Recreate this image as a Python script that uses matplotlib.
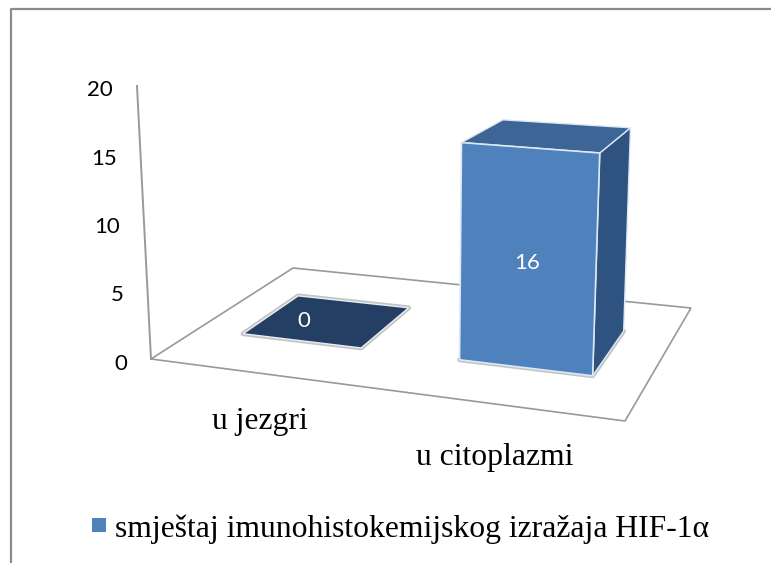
import numpy as np
import matplotlib
matplotlib.use("Agg")
import matplotlib.pyplot as plt
from matplotlib.patches import Polygon

categories = ["u jezgri", "u citoplazmi"]
values = [0, 16]
y_ticks = [0, 5, 10, 15, 20]
legend_label = "smještaj imunohistokemijskog izražaja HIF-1α"

W, H = 771, 563
YMAX = 20

# floor corners in pixels: front-left, front-right, back-right, back-left
FLOOR = np.array([[151, 359], [625, 421], [691, 308], [293, 268]], float)
# pixel vector of a full-height (YMAX) wall at each floor corner
RISE = np.array([[-14, -273], [12, -299], [10, -239], [-6, -216]], float)
BAR_W = 0.28
BAR_D = 0.41

x0, y0 = FLOOR[0]
x1, y1 = FLOOR[1]
x2, y2 = FLOOR[2]
x3, y3 = FLOOR[3]
dx1, dx2, sx = x1 - x2, x3 - x2, x0 - x1 + x2 - x3
dy1, dy2, sy = y1 - y2, y3 - y2, y0 - y1 + y2 - y3
det = dx1 * dy2 - dx2 * dy1
g = (sx * dy2 - dx2 * sy) / det
h = (dx1 * sy - sx * dy1) / det
a, b = x1 - x0 + g * x1, x3 - x0 + h * x3
d, e = y1 - y0 + g * y1, y3 - y0 + h * y3


def project(u, v, val=0):
    # category space (u, v on the floor, val up) -> pixels
    w = g * u + h * v + 1
    base = np.array([(a * u + b * v + x0) / w, (d * u + e * v + y0) / w])
    rise = ((1 - u) * (1 - v) * RISE[0] + u * (1 - v) * RISE[1]
            + u * v * RISE[2] + (1 - u) * v * RISE[3])
    return base + rise * val / YMAX


fig = plt.figure(figsize=(W / 100, H / 100), dpi=100)
ax = fig.add_axes([0, 0, 1, 1])
ax.set_xlim(0, W)
ax.set_ylim(H, 0)
ax.axis("off")

# chart frame, only left and top are inside the crop
ax.plot([10.5, 10.5, W], [H, 8.5, 8.5], color="#8c8c8c", lw=1.6)

# floor and y axis
ax.add_patch(Polygon(FLOOR, closed=True, fc="white", ec="#999999", lw=1.2, zorder=1))
ax.plot(*zip(project(0, 0, 0), project(0, 0, YMAX)), color="#999999", lw=1.4, zorder=1)

sans = "Lato"
serif = "Liberation Serif"
for t in y_ticks:
    px, py = project(0, 0, t)
    ax.text(px - 24, py + 4.5, str(t), ha="right", va="center", family=sans,
            fontsize=16, color="black")

FRONT = "#4f81bd"
SIDE = "#2f5380"
TOP = "#3d6596"
FLAT = "#243f63"
EDGE = "#dbe8f5"

for i, (cat, val) in enumerate(zip(categories, values)):
    uc = (i + 0.5) / len(categories)
    ul, ur = uc - BAR_W / 2, uc + BAR_W / 2
    vf, vb = 0.5 - BAR_D / 2, 0.5 + BAR_D / 2
    if val == 0:
        quad = [project(ul, vf), project(ur, vf), project(ur, vb), project(ul, vb)]
        ax.add_patch(Polygon(quad, closed=True, fc="none", ec="#c4c4c4", lw=3.5,
                             joinstyle="round", zorder=2))
        ax.add_patch(Polygon(quad, closed=True, fc=FLAT, ec="#e8eef5", lw=1, zorder=3))
        lx, ly = project(uc, 0.5)
        ax.text(lx - 24, ly + 1, str(val), color="white", ha="center", va="center",
                family=sans, fontsize=16, zorder=6)
    else:
        shadow = [project(ul, vf), project(ur, vf), project(ur, vb)]
        ax.add_patch(Polygon(shadow, closed=True, fc="none", ec="#c4c4c4", lw=3.5,
                             joinstyle="round", zorder=2))
        side = [project(ur, vf), project(ur, vb), project(ur, vb, val), project(ur, vf, val)]
        top = [project(ul, vf, val), project(ur, vf, val), project(ur, vb, val), project(ul, vb, val)]
        front = [project(ul, vf), project(ur, vf), project(ur, vf, val), project(ul, vf, val)]
        ax.add_patch(Polygon(side, closed=True, fc=SIDE, ec=EDGE, lw=1, zorder=3))
        ax.add_patch(Polygon(top, closed=True, fc=TOP, ec=EDGE, lw=1, zorder=3))
        ax.add_patch(Polygon(front, closed=True, fc=FRONT, ec=EDGE, lw=1.2, zorder=4))
        lx, ly = project(uc, vf, val / 2)
        ax.text(lx, ly + 5, str(val), color="white", ha="center", va="center",
                family=sans, fontsize=16, zorder=6)

# category labels sit below the front edge
label_pos = [(260, 429), (495, 465)]
for cat, (lx, ly) in zip(categories, label_pos):
    ax.text(lx, ly, cat, ha="center", va="baseline", family=serif, fontsize=22.8,
            color="black")

# legend
ax.add_patch(Polygon([[92, 518], [106, 518], [106, 532], [92, 532]], closed=True,
                     fc=FRONT, ec="none"))
ax.text(115, 537, legend_label, ha="left", va="baseline", family=serif,
        fontsize=22.8, color="black")

fig.savefig("out.png", dpi=100)
